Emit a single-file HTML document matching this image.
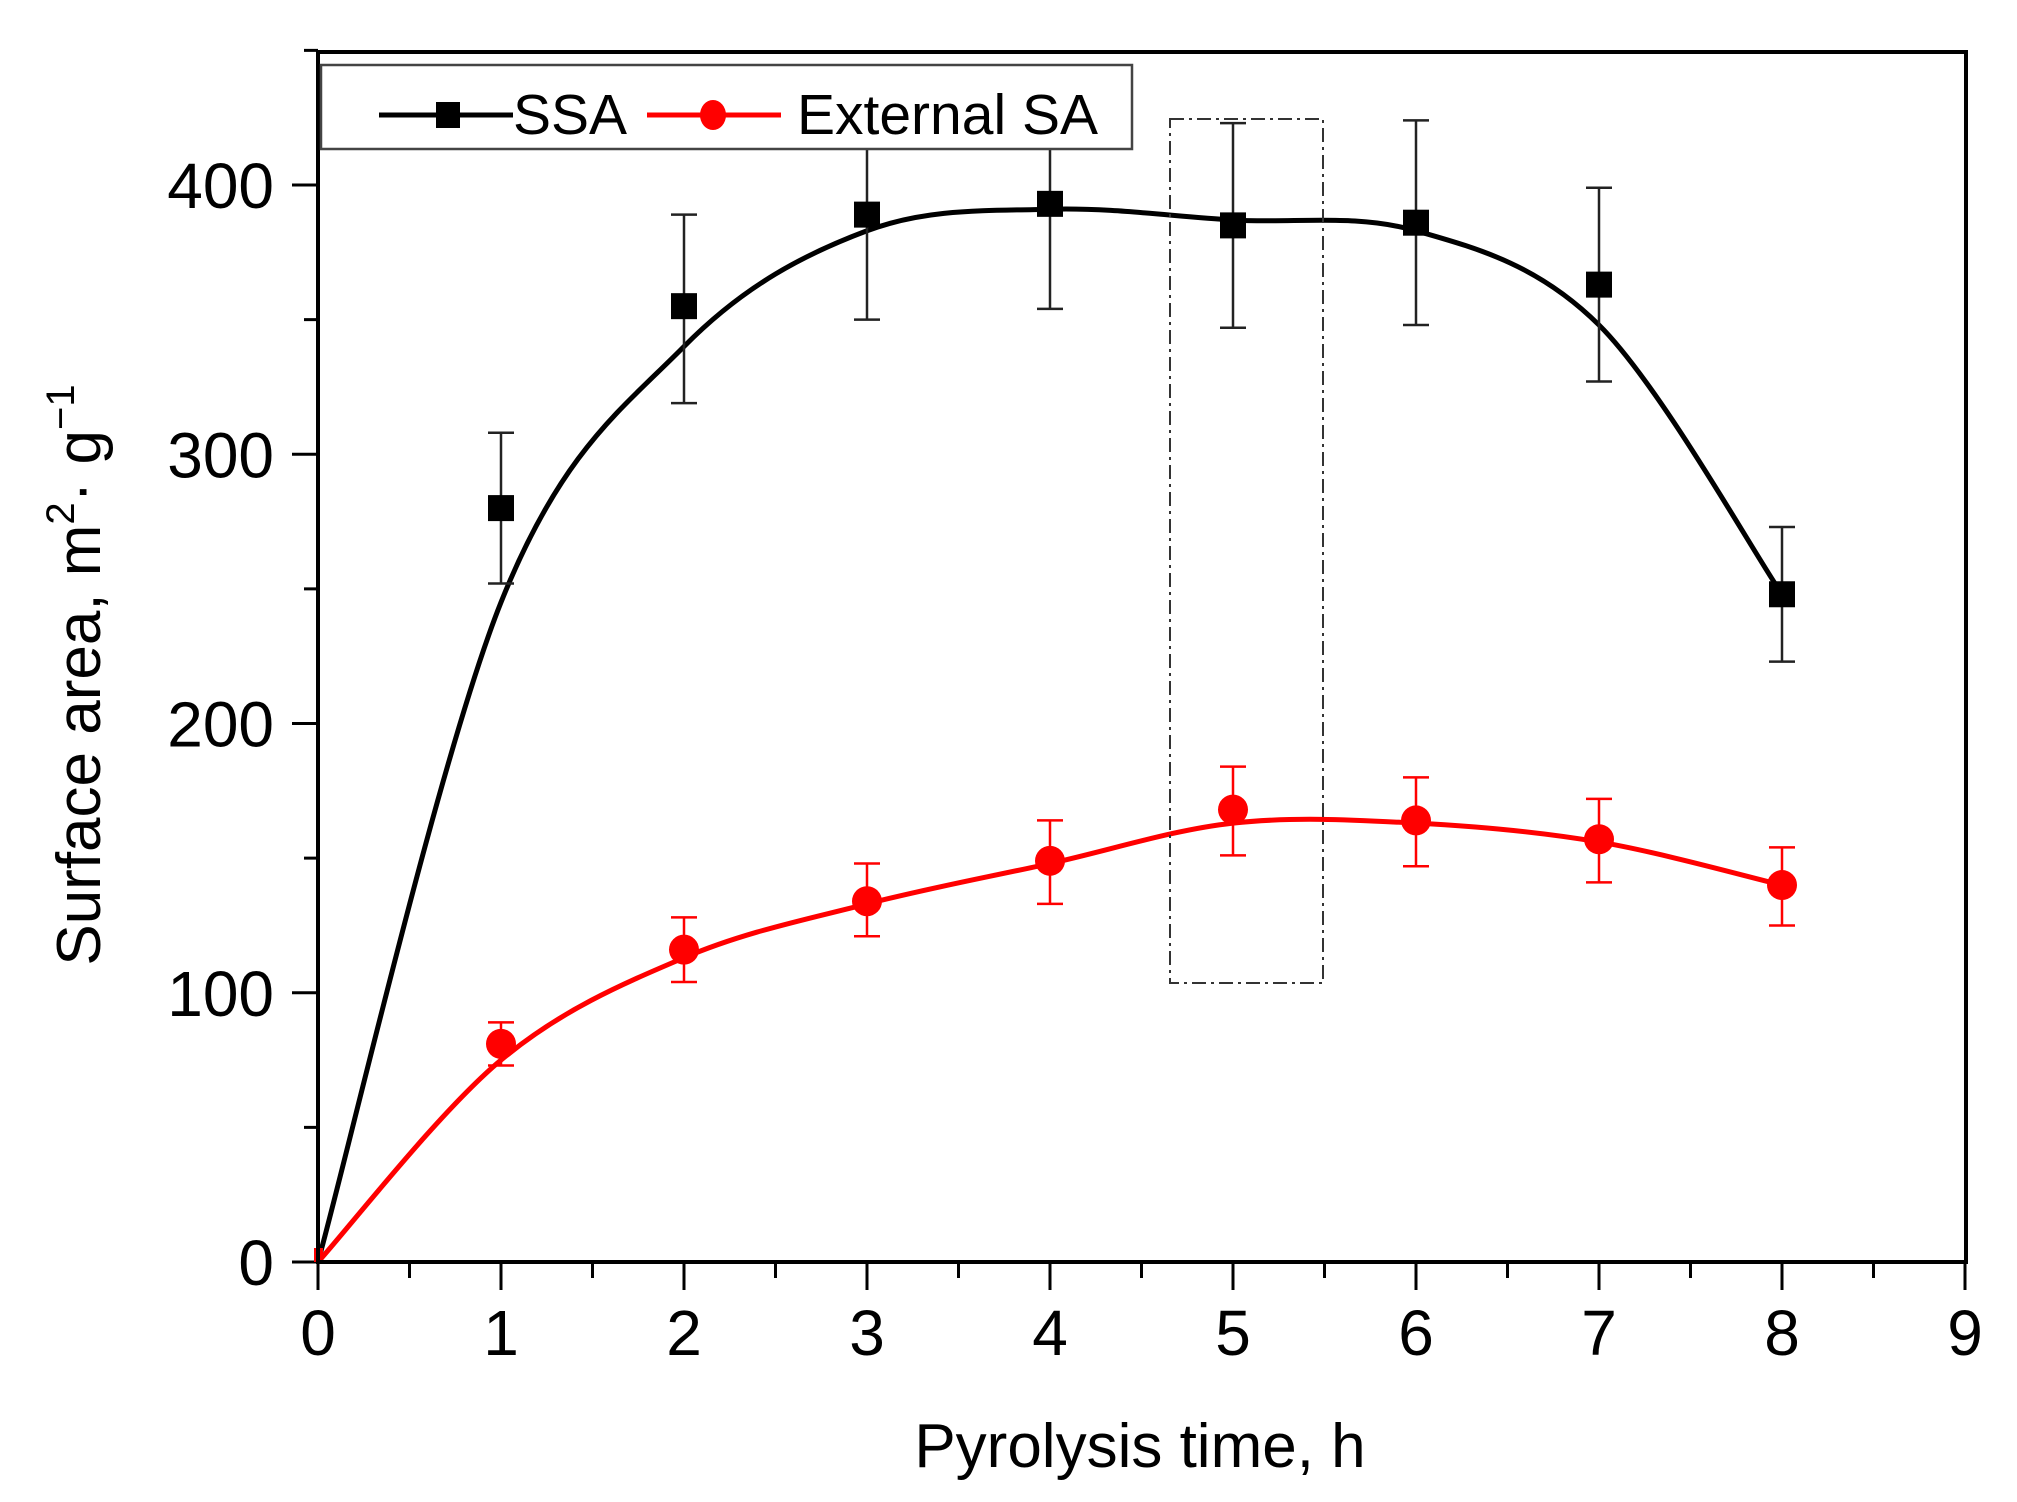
<!DOCTYPE html>
<html><head><meta charset="utf-8"><style>
html,body{margin:0;padding:0;background:#fff;}
svg{display:block;}
text{font-family:"Liberation Sans",Arial,sans-serif;}
</style></head><body>
<svg id="s" width="2017" height="1502" viewBox="0 0 2017 1502" xmlns="http://www.w3.org/2000/svg">
<rect width="2017" height="1502" fill="#fff"/>
<g id="g"></g>
<rect x="318" y="52" width="1648" height="1210" fill="none" stroke="#000" stroke-width="4"/>
<rect x="1170" y="119" width="153" height="864" fill="none" stroke="#333" stroke-width="2" stroke-dasharray="14,5,3,5"/>
<rect x="321" y="65" width="811" height="84" fill="#fff" stroke="#444" stroke-width="2.5"/>
<line x1="379" y1="115" x2="513" y2="115" stroke="#000" stroke-width="5"/>
<rect x="436" y="102" width="24" height="26" fill="#000"/>
<text x="513" y="134" font-size="57">SSA</text>
<line x1="647" y1="115" x2="781" y2="115" stroke="#f00" stroke-width="5"/>
<ellipse cx="713" cy="115" rx="13" ry="15" fill="#f00"/>
<text x="797" y="134" font-size="57">External SA</text>
<text x="1140" y="1467" font-size="62" text-anchor="middle">Pyrolysis time, h</text>
<text transform="translate(100,675) rotate(-90)" font-size="62" text-anchor="middle">Surface area, m<tspan font-size="40" dy="-26">2</tspan><tspan dy="26">·</tspan> g<tspan font-size="40" dy="-26">−1</tspan></text>
</svg>
<script>
const NS="http://www.w3.org/2000/svg",g=document.getElementById('g');
const X=v=>318+183*v, Y=v=>1262-2.6925*v;
function el(t,a,txt){const e=document.createElementNS(NS,t);for(const k in a)e.setAttribute(k,a[k]);if(txt!=null)e.textContent=txt;g.appendChild(e);return e;}
for(let i=0;i<=18;i++){const v=i/2,x=X(v);el('line',{x1:x,y1:1262,x2:x,y2:1262+(i%2?16:28),stroke:'#000','stroke-width':3});
 if(i%2==0)el('text',{x:x,y:1355,'font-size':64,'text-anchor':'middle'},String(v));}
for(let i=0;i<=9;i++){const v=i*50,y=Y(v);el('line',{x1:318,y1:y,x2:318-(i%2?14:26),y2:y,stroke:'#000','stroke-width':3});
 if(i%2==0)el('text',{x:274,y:y+23,'font-size':64,'text-anchor':'end'},String(v));}
function cr(pts){let d='M'+pts[0][0]+','+pts[0][1];for(let i=0;i<pts.length-1;i++){const p0=pts[i-1]||pts[i],p1=pts[i],p2=pts[i+1],p3=pts[i+2]||p2;
 d+=' C'+(p1[0]+(p2[0]-p0[0])/6)+','+(p1[1]+(p2[1]-p0[1])/6)+' '+(p2[0]-(p3[0]-p1[0])/6)+','+(p2[1]-(p3[1]-p1[1])/6)+' '+p2[0]+','+p2[1];}return d;}
const blk=[[0,0],[1,245],[2,340],[3,383],[4,391],[5,387],[6,383],[7,348],[8,248]];
const red=[[0,0],[1,75],[2,113],[3,133],[4,148],[5,163],[6,163],[7,156],[8,140]];
el('path',{d:cr(blk.map(p=>[X(p[0]),Y(p[1])])),fill:'none',stroke:'#000','stroke-width':5});
el('path',{d:cr(red.map(p=>[X(p[0]),Y(p[1])])),fill:'none',stroke:'#f00','stroke-width':5});
const S=[[1,280,252,308],[2,355,319,389],[3,389,350,428],[4,393,354,432],[5,385,347,423],[6,386,348,424],[7,363,327,399],[8,248,223,273]];
const R=[[1,81,73,89],[2,116,104,128],[3,134,121,148],[4,149,133,164],[5,168,151,184],[6,164,147,180],[7,157,141,172],[8,140,125,154]];
function eb(d,c){const x=X(d[0]);el('line',{x1:x,y1:Y(d[2]),x2:x,y2:Y(d[3]),stroke:c,'stroke-width':2.5});
 [d[2],d[3]].forEach(v=>el('line',{x1:x-13,y1:Y(v),x2:x+13,y2:Y(v),stroke:c,'stroke-width':2.5}));}
S.forEach(d=>{eb(d,'#222');el('rect',{x:X(d[0])-13,y:Y(d[1])-13,width:26,height:26,fill:'#000'});});
R.forEach(d=>{eb(d,'#f00');el('circle',{cx:X(d[0]),cy:Y(d[1]),r:15,fill:'#f00'});});
el('rect',{x:X(0)-4,y:Y(0)-14,width:9,height:14,fill:'#f00'});
</script>
</body></html>
